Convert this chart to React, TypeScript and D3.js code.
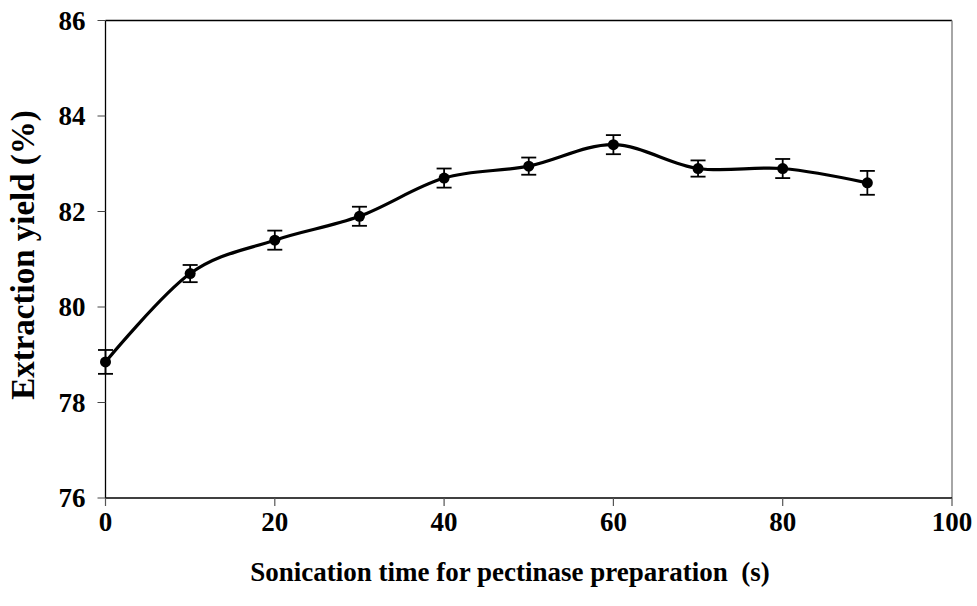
import React from "react";
import * as d3 from "d3";

const sonicationTimes = [0, 10, 20, 30, 40, 50, 60, 70, 80, 90];
const yieldValues = [78.85, 80.7, 81.4, 81.9, 82.7, 82.95, 83.4, 82.9, 82.9, 82.6];
const errorValues = [0.25, 0.18, 0.2, 0.2, 0.2, 0.18, 0.2, 0.17, 0.2, 0.25];
const xTicks = [0, 20, 40, 60, 80, 100];
const yTicks = [76, 78, 80, 82, 84, 86];
const xTitle = "Sonication time for pectinase preparation  (s)";
const yTitle = "Extraction yield (%)";

const W = 977;
const H = 606;
const left = 105.5;
const right = 952;
const top = 20.5;
const bottom = 498;
const font = "'Liberation Serif', 'Times New Roman', serif";

export default function App() {
  const x = d3.scaleLinear().domain([0, 100]).range([left, right]);
  const y = d3.scaleLinear().domain([76, 86]).range([bottom, top]);
  const pts = sonicationTimes.map((t, i) => ({ t, v: yieldValues[i], e: errorValues[i] }));
  const line = d3
    .line<{ t: number; v: number }>()
    .x((d) => x(d.t))
    .y((d) => y(d.v))
    .curve(d3.curveCatmullRom.alpha(0));
  const cap = 7.5;
  return (
    <svg
      width={W}
      height={H}
      style={{ position: "absolute", left: 0, top: 0, background: "#fff" }}
      fontFamily={font}
      fontWeight="bold"
    >
      <rect x={0} y={0} width={W} height={H} fill="#fff" />
      <line x1={left} x2={right} y1={top} y2={top} stroke="#000" strokeWidth={1.3} />
      <line x1={right} x2={right} y1={top} y2={bottom} stroke="#888" strokeWidth={1.5} />
      <line x1={left} x2={left} y1={top} y2={bottom} stroke="#000" strokeWidth={1.3} />
      <line x1={left} x2={right} y1={bottom} y2={bottom} stroke="#000" strokeWidth={1.3} />
      {yTicks.map((t) => (
        <g key={"y" + t}>
          <line x1={left - 8} x2={left} y1={y(t)} y2={y(t)} stroke="#444" strokeWidth={1} />
          <text x={left - 20} y={y(t)} dy="0.35em" textAnchor="end" fontSize={27}>
            {t}
          </text>
        </g>
      ))}
      {xTicks.map((t) => (
        <g key={"x" + t}>
          <line x1={x(t)} x2={x(t)} y1={bottom} y2={bottom + 8} stroke="#555" strokeWidth={1.2} />
          <text x={x(t)} y={bottom + 33} textAnchor="middle" fontSize={27}>
            {t}
          </text>
        </g>
      ))}
      <text x={510} y={581} textAnchor="middle" fontSize={27} style={{ whiteSpace: "pre" }}>
        {xTitle}
      </text>
      <text transform={`translate(34, 255) rotate(-90)`} textAnchor="middle" fontSize={33}>
        {yTitle}
      </text>
      {pts.map((d) => (
        <g key={"e" + d.t} stroke="#000" strokeWidth={1.8}>
          <line x1={x(d.t)} x2={x(d.t)} y1={y(d.v - d.e)} y2={y(d.v + d.e)} />
          <line x1={x(d.t) - cap} x2={x(d.t) + cap} y1={y(d.v - d.e)} y2={y(d.v - d.e)} />
          <line x1={x(d.t) - cap} x2={x(d.t) + cap} y1={y(d.v + d.e)} y2={y(d.v + d.e)} />
        </g>
      ))}
      <path d={line(pts) || ""} fill="none" stroke="#000" strokeWidth={3.2} strokeLinejoin="round" />
      {pts.map((d) => (
        <circle key={"c" + d.t} cx={x(d.t)} cy={y(d.v)} r={5.5} fill="#000" />
      ))}
    </svg>
  );
}
